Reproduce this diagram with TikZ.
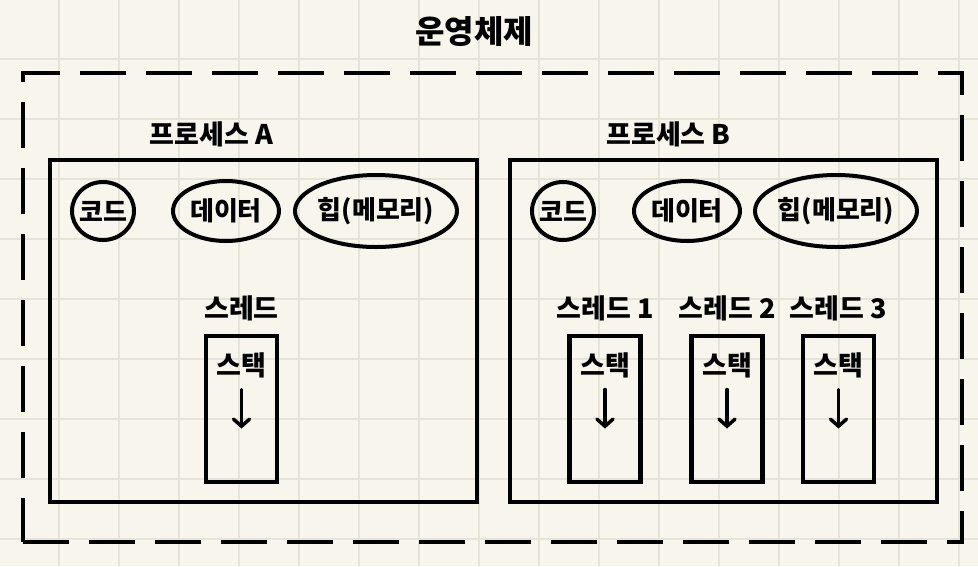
\documentclass[tikz,border=0pt]{standalone}
\usepackage{fontspec}
\setmainfont{Noto Sans CJK KR}
\usepackage{tikz}
\usetikzlibrary{positioning}
\usetikzlibrary{shapes.geometric}
\usetikzlibrary{arrows.meta}
\definecolor{paper}{HTML}{F7F5EC}
\definecolor{gridgray}{HTML}{E6E3D9}
\tikzset{
  hand/.style={font=\bfseries\fontsize{27}{27}\selectfont,inner sep=2pt},
  small/.style={font=\bfseries\fontsize{26}{26}\selectfont},
  osbox/.style={draw=black,line width=4.5pt,dash pattern=on 46pt off 20pt,minimum width=939pt,minimum height=469pt,inner sep=0pt},
  procbox/.style={draw=black,line width=4.5pt,minimum width=427pt,minimum height=342pt,inner sep=0pt},
  stackbox/.style={draw=black,line width=4.5pt,minimum width=71pt,minimum height=146pt,inner sep=0pt},
  seg/.style={draw=black,line width=4pt,ellipse,inner sep=-6pt,small},
  down/.style={line width=3.5pt,line cap=round,-{Straight Barb[length=7pt,width=16pt,line cap=round]}},
}

\begin{document}
\begin{tikzpicture}[x=1pt,y=-1pt]
    \fill[paper] (0,0) rectangle (978,566);
    \useasboundingbox (0,0) rectangle (978,566);
    \foreach \gx in {59,119,...,959} \draw[gridgray,line width=2pt] (\gx,0) -- (\gx,566);
    \foreach \gy in {59,119,...,539} \draw[gridgray,line width=2pt] (0,\gy) -- (978,\gy);

    \node[hand,font=\bfseries\fontsize{32}{32}\selectfont] (os) at (474,32) {운영체제};
    \node[osbox] (osb) at (492.5,307.5) {};

    % process A
    \node[procbox,label={[hand,xshift=-52pt,label distance=9pt]above:프로세스 A}] (pa) at (263.5,331) {};
    \node[seg,minimum width=62pt,minimum height=58pt] (codeA) at (103,211) {코드};
    \node[seg,minimum width=106pt,minimum height=60pt] (dataA) at (226,211) {데이터};
    \node[seg,minimum width=162pt,minimum height=72pt] (heapA) at (376,211) {힙(메모리)};
    \node[stackbox,label={[hand,label distance=11pt]above:스레드}] (thA) at (241.5,409) {};
    \node[hand,below=17pt of thA.north] (skA) {스택};
    \coordinate[below=9pt of skA] (tA);
    \coordinate[below=39pt of tA] (hA);
    \draw[down] (tA) -- (hA);

    % process B
    \node[procbox,label={[hand,xshift=-55pt,label distance=9pt]above:프로세스 B}] (pb) at (723.5,331) {};
    \node[seg,minimum width=62pt,minimum height=58pt] (codeB) at (563,211) {코드};
    \node[seg,minimum width=106pt,minimum height=60pt] (dataB) at (687,211) {데이터};
    \node[seg,minimum width=162pt,minimum height=72pt] (heapB) at (836,211) {힙(메모리)};

    \node[stackbox,label={[hand,label distance=11pt]above:스레드 1}] (th1) at (605,409) {};
    \node[hand,below=17pt of th1.north] (sk1) {스택};
    \coordinate[below=9pt of sk1] (t1);
    \coordinate[below=39pt of t1] (h1);
    \draw[down] (t1) -- (h1);

    \node[stackbox,label={[hand,label distance=11pt]above:스레드 2}] (th2) at (727,409) {};
    \node[hand,below=17pt of th2.north] (sk2) {스택};
    \coordinate[below=9pt of sk2] (t2);
    \coordinate[below=39pt of t2] (h2);
    \draw[down] (t2) -- (h2);

    \node[stackbox,label={[hand,label distance=11pt]above:스레드 3}] (th3) at (838.5,409) {};
    \node[hand,below=17pt of th3.north] (sk3) {스택};
    \coordinate[below=9pt of sk3] (t3);
    \coordinate[below=39pt of t3] (h3);
    \draw[down] (t3) -- (h3);
\end{tikzpicture}
\end{document}
